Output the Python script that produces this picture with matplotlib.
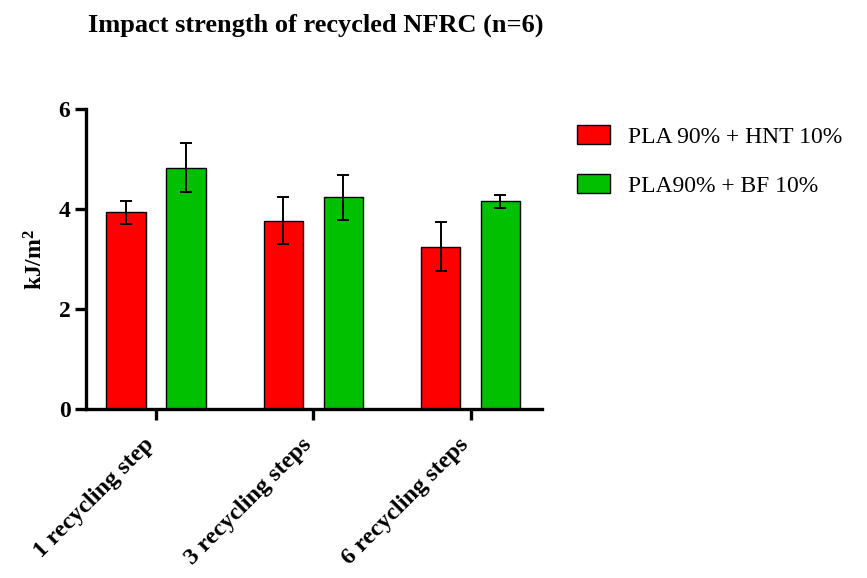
import numpy as np
import matplotlib.pyplot as plt
from matplotlib.transforms import ScaledTranslation

categories = ["1 recycling step", "3 recycling steps", "6 recycling steps"]
series_names = ["PLA 90% + HNT 10%", "PLA90% + BF 10%"]
hnt_mean = [3.94, 3.77, 3.25]
hnt_sd = [0.23, 0.47, 0.49]
bf_mean = [4.83, 4.24, 4.16]
bf_sd = [0.49, 0.45, 0.13]
y_ticks = [0, 2, 4, 6]

SERIF = ["Liberation Serif", "DejaVu Serif"]
plt.rcParams["font.family"] = SERIF
plt.rcParams["mathtext.fontset"] = "custom"
plt.rcParams["mathtext.bf"] = "Liberation Serif:bold"
plt.rcParams["mathtext.rm"] = "Liberation Serif"

fig = plt.figure(figsize=(8.67, 5.78), dpi=100)
ax = fig.add_axes([0.0988, 0.2919, 0.5260, 0.5195])

x = np.arange(len(categories))
w = 0.25
off = 0.19
err_kw = dict(ecolor="black", elinewidth=1.4, capsize=4, capthick=1.4)
ax.bar(x - off, hnt_mean, w, yerr=hnt_sd, color="#ff0000", edgecolor="black",
       linewidth=1.0, label=series_names[0], error_kw=err_kw, zorder=2)
ax.bar(x + off, bf_mean, w, yerr=bf_sd, color="#00c000", edgecolor="black",
       linewidth=1.0, label=series_names[1], error_kw=err_kw, zorder=2)

ax.set_xlim(-0.447, 2.452)
ax.set_ylim(0, 6)
ax.set_yticks(y_ticks)
ax.set_xticks(x)
ax.set_xticklabels([])

# rotated category labels, placed by hand so they sit like Prism's
shift = ScaledTranslation(-9 / 72, -18 / 72, fig.dpi_scale_trans)
for xi, name in zip(x, categories):
    ax.text(xi, 0, name, transform=ax.transData + shift, rotation=45,
            ha="right", va="top", rotation_mode="anchor",
            fontsize=17.5, fontweight="bold")

for lab in ax.get_yticklabels():
    lab.set_fontsize(17)
    lab.set_fontweight("bold")

for s in ["top", "right"]:
    ax.spines[s].set_visible(False)
for s in ["left", "bottom"]:
    ax.spines[s].set_linewidth(2.4)
ax.tick_params(axis="both", width=2.4, length=8, direction="out", pad=3)

ax.set_ylabel("kJ/m$\\mathbf{^2}$", fontsize=17, fontweight="bold", labelpad=8)

fig.text(0.3645, 0.9446, "Impact strength of recycled NFRC (n=6)", ha="center",
         va="baseline", fontsize=19, fontweight="bold")

ax.legend(loc="upper left", bbox_to_anchor=(0.655, 0.80), bbox_transform=fig.transFigure,
          frameon=False, fontsize=17, handlelength=1.4, handleheight=0.89,
          handletextpad=0.76, labelspacing=1.1, borderaxespad=0)

fig.savefig("out.png", dpi=100)
